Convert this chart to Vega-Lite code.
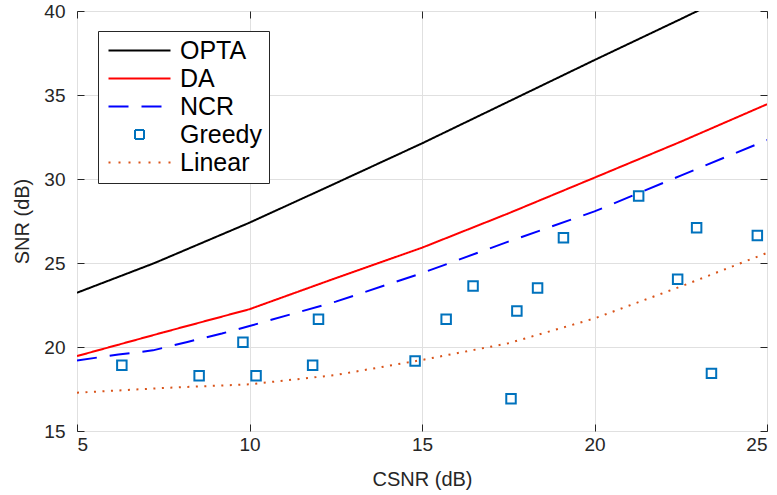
{
  "$schema": "https://vega.github.io/schema/vega-lite/v6.json",
  "width": 690,
  "height": 420,
  "autosize": "none",
  "padding": {"left": 77, "top": 11, "right": 10, "bottom": 64},
  "background": "white",
  "config": {
    "view": {"stroke": "#262626", "strokeWidth": 1},
    "axis": {
      "labelFont": "Liberation Sans",
      "titleFont": "Liberation Sans",
      "labelFontSize": 19,
      "titleFontSize": 20,
      "titleFontWeight": "normal",
      "labelColor": "#262626",
      "titleColor": "#262626",
      "tickColor": "#262626",
      "tickSize": -7,
      "tickWidth": 1,
      "domain": false,
      "gridColor": "#e0e0e0",
      "gridOpacity": 1,
      "gridWidth": 1
    },
    "legend": {
      "orient": "none",
      "legendX": 21,
      "legendY": 20,
      "title": null,
      "strokeColor": "#262626",
      "fillColor": "white",
      "padding": 7,
      "labelFont": "Liberation Sans",
      "labelFontSize": 25,
      "labelColor": "black",
      "rowPadding": 2,
      "labelOffset": 50,
      "symbolSize": 100,
      "symbolStrokeWidth": 2,
      "labelLimit": 300
    }
  },
  "datasets": {
    "curves": [
      {"series": "OPTA", "x": 5, "y": 23.23},
      {"series": "OPTA", "x": 7.25, "y": 25.0},
      {"series": "OPTA", "x": 10, "y": 27.4},
      {"series": "OPTA", "x": 12.5, "y": 29.75},
      {"series": "OPTA", "x": 15, "y": 32.12},
      {"series": "OPTA", "x": 17.5, "y": 34.6},
      {"series": "OPTA", "x": 20, "y": 37.08},
      {"series": "OPTA", "x": 22.5, "y": 39.52},
      {"series": "OPTA", "x": 25, "y": 42.0},
      {"series": "DA", "x": 5, "y": 19.46},
      {"series": "DA", "x": 7.5, "y": 20.87},
      {"series": "DA", "x": 10, "y": 22.25},
      {"series": "DA", "x": 12.5, "y": 24.1},
      {"series": "DA", "x": 15, "y": 25.91},
      {"series": "DA", "x": 17.5, "y": 27.95},
      {"series": "DA", "x": 20, "y": 30.08},
      {"series": "DA", "x": 22.5, "y": 32.22},
      {"series": "DA", "x": 25, "y": 34.45},
      {"series": "NCR", "x": 5, "y": 19.2},
      {"series": "NCR", "x": 6.2, "y": 19.55},
      {"series": "NCR", "x": 7.2, "y": 19.8},
      {"series": "NCR", "x": 8.2, "y": 20.3},
      {"series": "NCR", "x": 9.2, "y": 20.8},
      {"series": "NCR", "x": 10, "y": 21.25},
      {"series": "NCR", "x": 12.5, "y": 22.7},
      {"series": "NCR", "x": 15, "y": 24.4},
      {"series": "NCR", "x": 17.5, "y": 26.27},
      {"series": "NCR", "x": 20, "y": 28.07},
      {"series": "NCR", "x": 22.5, "y": 30.2},
      {"series": "NCR", "x": 25, "y": 32.32},
      {"series": "Linear", "x": 5, "y": 17.28},
      {"series": "Linear", "x": 7.5, "y": 17.56},
      {"series": "Linear", "x": 10, "y": 17.78},
      {"series": "Linear", "x": 12.5, "y": 18.33},
      {"series": "Linear", "x": 15, "y": 19.23},
      {"series": "Linear", "x": 17.5, "y": 20.22},
      {"series": "Linear", "x": 20, "y": 21.7},
      {"series": "Linear", "x": 22.5, "y": 23.6},
      {"series": "Linear", "x": 25, "y": 25.6}
    ],
    "greedy": [
      {"series": "Greedy", "x": 6.3, "y": 18.91},
      {"series": "Greedy", "x": 8.54, "y": 18.29},
      {"series": "Greedy", "x": 9.81, "y": 20.28},
      {"series": "Greedy", "x": 10.19, "y": 18.29},
      {"series": "Greedy", "x": 11.83, "y": 18.91},
      {"series": "Greedy", "x": 12.0, "y": 21.65},
      {"series": "Greedy", "x": 14.8, "y": 19.17},
      {"series": "Greedy", "x": 15.7, "y": 21.65},
      {"series": "Greedy", "x": 16.48, "y": 23.63},
      {"series": "Greedy", "x": 17.58, "y": 16.92},
      {"series": "Greedy", "x": 17.75, "y": 22.14},
      {"series": "Greedy", "x": 18.35, "y": 23.51},
      {"series": "Greedy", "x": 19.1, "y": 26.51},
      {"series": "Greedy", "x": 21.28, "y": 28.99},
      {"series": "Greedy", "x": 22.41, "y": 24.03},
      {"series": "Greedy", "x": 22.96, "y": 27.1},
      {"series": "Greedy", "x": 23.39, "y": 18.43},
      {"series": "Greedy", "x": 24.72, "y": 26.63}
    ]
  },
  "layer": [
    {
      "data": {"name": "curves"},
      "mark": {"type": "line", "strokeWidth": 2, "clip": true},
      "encoding": {
        "x": {
          "field": "x", "type": "quantitative",
          "scale": {"domain": [5, 25], "nice": false, "zero": false},
          "axis": {"orient": "bottom", "values": [5, 10, 15, 20, 25], "title": "CSNR (dB)", "labelPadding": 11, "titleX": 345, "titleY": 48, "titleBaseline": "middle", "titleAnchor": "middle", "grid": true}
        },
        "y": {
          "field": "y", "type": "quantitative",
          "scale": {"domain": [15, 40], "nice": false, "zero": false},
          "axis": {"orient": "left", "values": [15, 20, 25, 30, 35, 40], "title": "SNR (dB)", "labelPadding": 19, "titleX": -55, "titleY": 210, "titleBaseline": "middle", "titleAnchor": "middle", "grid": true}
        },
        "color": {
          "field": "series", "type": "nominal",
          "scale": {"domain": ["OPTA", "DA", "NCR", "Greedy", "Linear"], "range": ["#000000", "#FF0000", "#0000FF", "#0072BD", "#D95319"]},
          "legend": {
            "encode": {
              "symbols": {
                "update": {
                  "shape": {"signal": "datum.value === 'Greedy' ? 'M3.5,-0.9H5.3V0.9H3.5Z' : 'M-1.8,0H10.6'"},
                  "strokeDash": {"signal": "datum.value === 'NCR' ? [20,13] : (datum.value === 'Linear' ? [2,8] : [1,0])"},
                  "fill": {"value": "transparent"},
                  "stroke": {"scale": "color", "field": "value"},
                  "strokeWidth": {"value": 2},
                  "size": {"value": 100},
                  "opacity": {"value": 1}
                }
              }
            }
          }
        },
        "strokeDash": {
          "field": "series", "type": "nominal",
          "scale": {"domain": ["OPTA", "DA", "NCR", "Linear"], "range": [[1, 0], [1, 0], [20, 13], [2, 6.5]]},
          "legend": null
        }
      }
    },
    {
      "data": {"name": "greedy"},
      "mark": {"type": "point", "shape": "square", "filled": false, "strokeWidth": 2, "size": 90, "opacity": 1},
      "encoding": {
        "x": {
          "field": "x", "type": "quantitative",
          "axis": {"orient": "top", "values": [5, 10, 15, 20, 25], "labels": false, "title": null, "grid": false}
        },
        "y": {
          "field": "y", "type": "quantitative",
          "axis": {"orient": "right", "values": [15, 20, 25, 30, 35, 40], "labels": false, "title": null, "grid": false}
        },
        "color": {"field": "series", "type": "nominal"}
      }
    }
  ],
  "resolve": {"axis": {"x": "independent", "y": "independent"}}
}
